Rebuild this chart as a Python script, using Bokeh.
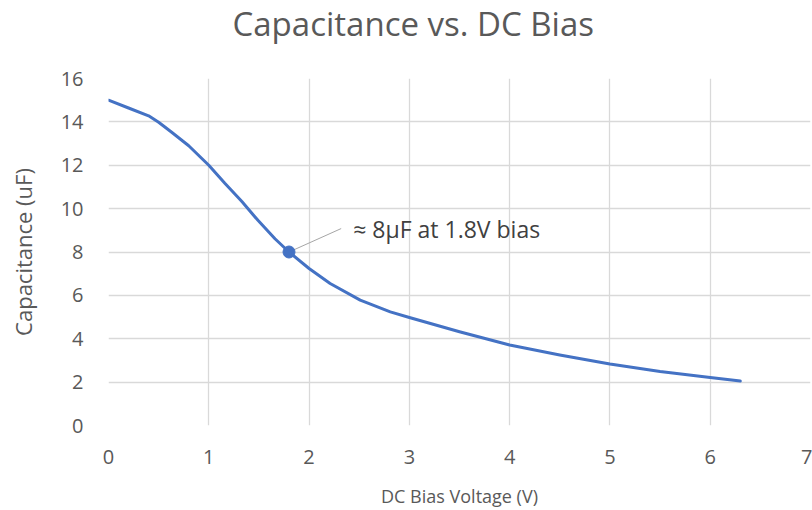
from bokeh.plotting import figure
from bokeh.models import Range1d, FixedTicker, Title
from bokeh.embed import file_html
from bokeh.resources import INLINE
from bokeh.core.properties import value

# data
voltage = [0.0, 0.2, 0.4, 0.5, 0.63, 0.8, 1.0, 1.16, 1.33, 1.49, 1.66, 1.8, 2.0, 2.21,
           2.51, 2.81, 3.0, 3.5, 4.0, 4.5, 5.0, 5.5, 6.0, 6.3]
capacitance = [15.0, 14.64, 14.28, 13.98, 13.52, 12.9, 12.0, 11.17, 10.33, 9.46, 8.61, 8.0, 7.24, 6.55,
               5.78, 5.24, 4.98, 4.32, 3.71, 3.25, 2.84, 2.49, 2.21, 2.05]
marker_v = [1.8]
marker_c = [8.0]
leader_v = [1.8, 2.32]
leader_c = [8.0, 9.08]
note_v = [2.44]
note_c = [9.05]
note_text = ["≈ 8µF at 1.8V bias"]
x_ticks = [0, 1, 2, 3, 4, 5, 6, 7]
y_ticks = [0, 2, 4, 6, 8, 10, 12, 14, 16]
title_text = "Capacitance vs. DC Bias"

FONT = "Open Sans"
TXT = "#595959"
GRID = "#d9d9d9"
BLUE = "#4472C4"

p = figure(width=812, height=510, output_backend="svg", toolbar_location=None,
           x_range=Range1d(0, 7), y_range=Range1d(0, 16),
           min_border_left=108, min_border_right=2, min_border_bottom=84, min_border_top=77)

p.title.text = title_text
p.title.align = "left"
p.title.offset = 124
p.title.vertical_align = "top"
p.title.standoff = 0
p.title.text_font = FONT
p.title.text_font_style = "normal"
p.title.text_font_size = "33px"
p.title.text_color = TXT

# blank (white) spacer between the title and the plot area
p.add_layout(Title(text=" ", text_font_size="10px", standoff=18, text_color="white"), "above")

p.outline_line_color = None
p.background_fill_color = "white"
p.border_fill_color = "white"

for ax in (p.xaxis[0], p.yaxis[0]):
    ax.axis_line_color = None
    ax.major_tick_line_color = None
    ax.minor_tick_line_color = None
    ax.major_label_text_font = FONT
    ax.major_label_text_font_size = "20px"
    ax.major_label_text_color = TXT
    ax.axis_label_text_font = FONT
    ax.axis_label_text_font_style = "normal"
    ax.axis_label_text_color = TXT

p.xaxis[0].ticker = FixedTicker(ticks=x_ticks)
p.yaxis[0].ticker = FixedTicker(ticks=y_ticks)
p.xaxis.axis_label = "DC Bias Voltage (V)"
p.yaxis.axis_label = "Capacitance (uF)"
p.xaxis.axis_label_text_font_size = "18px"
p.yaxis.axis_label_text_font_size = "22px"
p.xaxis.major_label_standoff = 18
p.yaxis.major_label_standoff = 19
p.xaxis.axis_label_standoff = 17
p.yaxis.axis_label_standoff = 20

p.xgrid.grid_line_color = GRID
p.ygrid.grid_line_color = GRID
p.xgrid.grid_line_width = 1.3
p.ygrid.grid_line_width = 1.3

p.line(voltage, capacitance, line_color=BLUE, line_width=3, line_join="round", line_cap="round")
p.line(leader_v, leader_c, line_color="#a6a6a6", line_width=1)
p.scatter(marker_v, marker_c, size=12, fill_color=BLUE, line_color=BLUE)
p.text(note_v, note_c, text=note_text, text_font=value(FONT), text_font_size="23px",
       text_color="#404040", text_align="left", text_baseline="middle")

open("out.html", "w").write(file_html(p, INLINE))
